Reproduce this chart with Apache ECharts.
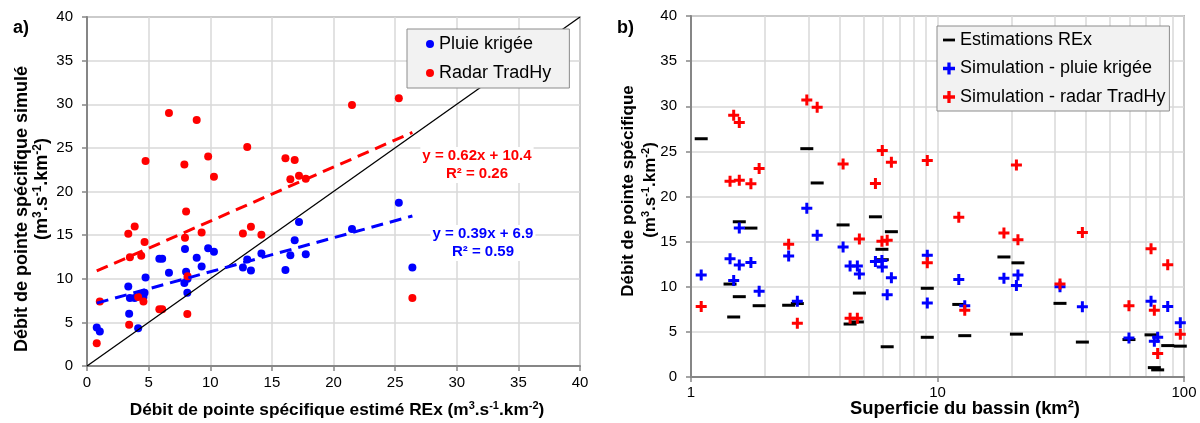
<!DOCTYPE html>
<html>
<head>
<meta charset="utf-8">
<script src="https://cdn.jsdelivr.net/npm/echarts@6/dist/echarts.min.js"></script>
<style>
  html, body { margin: 0; padding: 0; background: #fff; }
  #chart { width: 1200px; height: 423px; }
</style>
</head>
<body>
<div id="chart"></div>
<script>
  // une valeur par bassin
  const basinArea = [1.10, 2.95, 3.25, 1.57, 1.75, 1.44, 1.57, 1.49, 1.89, 2.49, 2.70, 4.14, 5.60, 6.50, 5.95, 5.97, 4.82, 4.42,
    4.73, 6.25, 9.09, 9.09, 12.2, 12.9, 18.6, 21.2, 20.9, 31.4, 38.7, 59.8, 73.5, 75.8, 78.2, 85.9, 96.6]
  const qRex = [26.4, 25.3, 21.5, 17.2, 16.5, 10.3, 8.9, 6.65, 7.9, 7.95, 8.14, 16.85, 17.75, 16.1, 14.15, 13.0, 9.3, 5.87,
    6.1, 3.35, 9.83, 4.4, 8.04, 4.58, 13.3, 12.65, 4.75, 8.16, 3.87, 4.15, 4.67, 1.04, 0.79, 3.48, 3.42]
  const qKrigee = [11.3, 18.7, 15.7, 16.5, 12.7, 13.1, 12.4, 10.7, 9.5, 13.4, 8.4, 14.4, 12.8, 11.0, 12.9, 12.2, 11.4, 12.3,
    12.3, 9.1, 13.5, 8.2, 10.8, 7.9, 10.95, 11.3, 10.15, 10.0, 7.78, 4.33, 8.4, 3.96, 4.4, 7.8, 6.0]
  const qRadar = [7.8, 30.7, 29.9, 21.8, 21.4, 21.7, 28.2, 29.0, 23.1, 14.7, 5.95, 23.6, 21.45, 23.8, 15.05, 25.1, 15.3, 6.5,
    6.5, 15.15, 24.0, 12.65, 17.7, 7.4, 15.95, 15.2, 23.5, 10.3, 16.0, 7.9, 14.2, 7.4, 2.6, 12.45, 4.73]

  // régressions affichées sur le graphe
  const fitKrigee = { slope: 0.39, intercept: 6.9, r2: 0.59 }
  const fitRadar = { slope: 0.62, intercept: 10.4, r2: 0.26 }

  const qTicks = [0, 5, 10, 15, 20, 25, 30, 35, 40]
  const areaTicks = [1, 10, 100]
  const areaMinor = [2, 3, 4, 5, 6, 7, 8, 9, 20, 30, 40, 50, 60, 70, 80, 90]

  const font = "'Liberation Sans', Arial, sans-serif"
  const blue = '#0000ff'
  const red = '#ff0000'
  const axisGray = '#868686'
  const gridGray = '#d9d9d9'

  const xMin = Math.min(...qRex)
  const xMax = Math.max(...qRex)
  const fitLine = (fit) => [xMin, xMax].map((x) => [x, fit.slope * x + fit.intercept])
  const fmt = (v) => v.toFixed(2).replace(/0$/, '').replace(/\.$/, '')

  const supRich = (size) => ({
    sup: { fontSize: Math.round(size * 0.65), fontWeight: 'bold', fontFamily: font, verticalAlign: 'top', lineHeight: 12 }
  })
  const unitLabel = '(m{sup|3}.s{sup|-1}.km{sup|-2})'

  // titres d'axes
  const title = (text, x, y, size, vertical) => ({
    type: 'text',
    x,
    y,
    rotation: vertical ? Math.PI / 2 : 0,
    style: {
      text,
      fontSize: size,
      fontWeight: 'bold',
      fontFamily: font,
      fill: '#000',
      align: 'center',
      verticalAlign: 'middle',
      lineHeight: 20,
      rich: supRich(size)
    }
  })

  const commonAxis = {
    axisLine: { show: true, lineStyle: { color: axisGray, width: 2 } },
    axisTick: { show: true, length: 5, lineStyle: { color: axisGray, width: 1.5 } },
    splitLine: { show: true, lineStyle: { color: gridGray, width: 1.5 } },
    axisLabel: { color: '#000', fontSize: 15, fontFamily: font }
  }
  const qAxis = {
    ...commonAxis,
    type: 'value',
    min: qTicks[0],
    max: qTicks[qTicks.length - 1],
    interval: qTicks[1] - qTicks[0]
  }

  const chart = echarts.init(document.getElementById('chart'))
  chart.setOption({
    animation: false,
    textStyle: { fontFamily: font },
    grid: [
      { left: 87, top: 17, width: 493, height: 349, show: true, borderColor: axisGray, borderWidth: 1.5, backgroundColor: 'transparent' },
      { left: 691, top: 16, width: 493, height: 361, show: true, borderColor: axisGray, borderWidth: 1.5, backgroundColor: 'transparent' }
    ],
    xAxis: [
      { ...qAxis, gridIndex: 0, axisLabel: { ...commonAxis.axisLabel, margin: 9 } },
      {
        ...commonAxis,
        gridIndex: 1,
        type: 'log',
        logBase: 10,
        min: areaTicks[0],
        max: areaTicks[areaTicks.length - 1],
        axisLabel: { ...commonAxis.axisLabel, margin: 8, formatter: (v) => String(v) }
      }
    ],
    yAxis: [
      { ...qAxis, gridIndex: 0, axisLabel: { ...commonAxis.axisLabel, margin: 14 } },
      { ...qAxis, gridIndex: 1, axisLabel: { ...commonAxis.axisLabel, margin: 14 } }
    ],
    legend: [
      {
        data: ['Pluie krigée', 'Radar TradHy'],
        orient: 'vertical',
        left: 407,
        top: 29,
        padding: [5, 18, 5, 19],
        itemWidth: 8,
        itemHeight: 8,
        itemGap: 9,
        icon: 'circle',
        backgroundColor: '#f2f2f2',
        borderColor: '#8c8c8c',
        borderWidth: 1,
        z: 10,
        textStyle: { color: '#000', fontSize: 18, fontFamily: font, lineHeight: 20 }
      },
      {
        data: ['Estimations REx', 'Simulation - pluie krigée', 'Simulation - radar TradHy'],
        orient: 'vertical',
        left: 937,
        top: 26,
        padding: [4, 4, 4, 6],
        itemWidth: 12,
        itemHeight: 12,
        itemGap: 8.5,
        backgroundColor: '#f2f2f2',
        borderColor: '#8c8c8c',
        borderWidth: 1,
        z: 10,
        textStyle: { color: '#000', fontSize: 18, fontFamily: font, lineHeight: 20 }
      }
    ],
    graphic: [
      { type: 'text', left: 13, top: 19, style: { text: 'a)', font: 'bold 18px ' + font, fill: '#000' } },
      { type: 'text', left: 617, top: 19, style: { text: 'b)', font: 'bold 18px ' + font, fill: '#000' } },
      title('Débit de pointe spécifique estimé REx ' + unitLabel, 337, 410, 17.3, false),
      title('Superficie du bassin (km²)', 965, 409, 18.4, false),
      title('Débit de pointe spécifique simulé', 22, 209, 18, true),
      title(unitLabel, 42, 189, 18, true),
      title('Débit de pointe spécifique', 628, 191, 17, true),
      title(unitLabel, 650, 190, 17, true),
      {
        type: 'text', x: 477, y: 147, z: 5,
        style: {
          text: 'y = ' + fmt(fitRadar.slope) + 'x + ' + fitRadar.intercept + '\nR² = ' + fmt(fitRadar.r2),
          font: 'bold 15px ' + font, fill: red, align: 'center', lineHeight: 18,
          backgroundColor: '#fff', padding: [0, 2]
        }
      },
      {
        type: 'text', x: 483, y: 225, z: 5,
        style: {
          text: 'y = ' + fmt(fitKrigee.slope) + 'x + ' + fitKrigee.intercept + '\nR² = ' + fmt(fitKrigee.r2),
          font: 'bold 15px ' + font, fill: blue, align: 'center', lineHeight: 18,
          backgroundColor: '#fff', padding: [0, 2]
        }
      }
    ],
    series: [
      {
        name: 'grille-log',
        type: 'line',
        xAxisIndex: 1,
        yAxisIndex: 1,
        data: [],
        silent: true,
        z: 0,
        markLine: {
          silent: true,
          z: 0,
          symbol: ['none', 'none'],
          label: { show: false },
          emphasis: { disabled: true },
          lineStyle: { color: gridGray, width: 1.5, type: 'solid' },
          data: areaMinor.map((v) => ({ xAxis: v }))
        }
      },
      {
        name: '1:1',
        type: 'line',
        xAxisIndex: 0,
        yAxisIndex: 0,
        data: [[qTicks[0], qTicks[0]], [qTicks[qTicks.length - 1], qTicks[qTicks.length - 1]]],
        symbol: 'none',
        lineStyle: { color: '#000', width: 1.3 },
        silent: true
      },
      {
        name: 'Pluie krigée',
        type: 'scatter',
        xAxisIndex: 0,
        yAxisIndex: 0,
        data: qRex.map((x, i) => [x, qKrigee[i]]),
        symbol: 'circle',
        symbolSize: 8,
        itemStyle: { color: blue, opacity: 1 }
      },
      {
        name: 'Radar TradHy',
        type: 'scatter',
        xAxisIndex: 0,
        yAxisIndex: 0,
        data: qRex.map((x, i) => [x, qRadar[i]]),
        symbol: 'circle',
        symbolSize: 8,
        itemStyle: { color: red, opacity: 1 }
      },
      {
        name: 'tendance krigée',
        type: 'line',
        xAxisIndex: 0,
        yAxisIndex: 0,
        data: fitLine(fitKrigee),
        symbol: 'none',
        lineStyle: { color: blue, width: 3, type: [12, 7] },
        silent: true
      },
      {
        name: 'tendance radar',
        type: 'line',
        xAxisIndex: 0,
        yAxisIndex: 0,
        data: fitLine(fitRadar),
        symbol: 'none',
        lineStyle: { color: red, width: 3, type: [12, 7] },
        silent: true
      },
      {
        name: 'Estimations REx',
        type: 'scatter',
        xAxisIndex: 1,
        yAxisIndex: 1,
        data: basinArea.map((a, i) => [a, qRex[i]]),
        symbol: 'path://M0,0h13v3h-13z',
        symbolSize: [13, 3],
        itemStyle: { color: '#000', opacity: 1 }
      },
      {
        name: 'Simulation - pluie krigée',
        type: 'scatter',
        xAxisIndex: 1,
        yAxisIndex: 1,
        data: basinArea.map((a, i) => [a, qKrigee[i]]),
        symbol: 'path://M4,0h3v4h4v3h-4v4h-3v-4h-4v-3h4z',
        symbolSize: 11,
        itemStyle: { color: blue, opacity: 1 }
      },
      {
        name: 'Simulation - radar TradHy',
        type: 'scatter',
        xAxisIndex: 1,
        yAxisIndex: 1,
        data: basinArea.map((a, i) => [a, qRadar[i]]),
        symbol: 'path://M4,0h3v4h4v3h-4v4h-3v-4h-4v-3h4z',
        symbolSize: 11,
        itemStyle: { color: red, opacity: 1 }
      }
    ]
  })
</script>
</body>
</html>
